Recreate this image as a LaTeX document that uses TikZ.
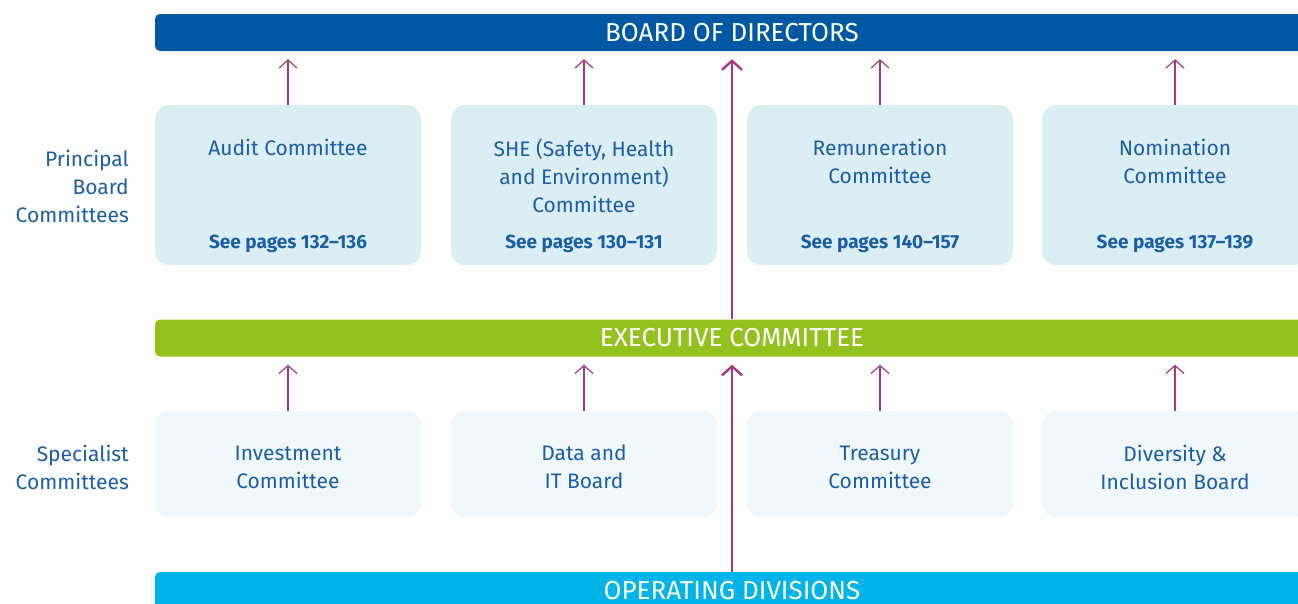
\documentclass[tikz,border=0pt]{standalone}
\usepackage{fontspec}
\setmainfont{Fira Sans}
\usetikzlibrary{arrows.meta, positioning}

\definecolor{boardblue}{HTML}{0057A4}
\definecolor{execgreen}{HTML}{95C11F}
\definecolor{opscyan}{HTML}{00B4E9}
\definecolor{mainfill}{HTML}{DBEEF4}
\definecolor{specfill}{HTML}{F0F8FB}
\definecolor{textblue}{HTML}{1B5EA8}
\definecolor{arrowpink}{HTML}{A6387F}

\tikzset{
    bar/.style={rounded corners=5pt, minimum height=37pt, minimum width=1154pt,
        inner sep=0pt, text=white, font=\fontsize{26}{30}\selectfont},
    mainbox/.style={fill=mainfill, rounded corners=14pt, minimum width=266pt,
        minimum height=160pt, inner sep=0pt},
    specbox/.style={fill=specfill, rounded corners=14pt, minimum width=266pt,
        minimum height=106pt, inner sep=0pt},
    boxtitle/.style={align=center, text=textblue, inner sep=0pt,
        font=\fontsize{21}{28}\selectfont},
    seepages/.style={text=textblue, inner sep=0pt,
        font=\bfseries\fontsize{19}{22}\selectfont},
    rowlabel/.style={align=right, anchor=east, text=textblue, inner sep=0pt,
        font=\fontsize{21}{28}\selectfont},
    smallarrow/.style={draw=arrowpink, line width=1.2pt,
        -{Straight Barb[length=8pt, width=18pt]}, shorten >=8pt},
    bigarrow/.style={draw=arrowpink, line width=2.4pt,
        -{Straight Barb[length=9pt, width=20pt]}, shorten >=8pt}
}

\begin{document}
\begin{tikzpicture}[x=1pt, y=-1pt]

    % frame of the picture
    \path[use as bounding box, clip] (0,0) rectangle (1298,603);

    % the three bars
    \node[bar, fill=boardblue] (board) at (732,32.5) {BOARD OF DIRECTORS};
    \node[bar, fill=execgreen] (exec) at (732,338) {EXECUTIVE COMMITTEE};
    \node[bar, fill=opscyan] (ops) at (732,590.5) {OPERATING DIVISIONS};

    % row labels
    \node[rowlabel] (principal) at (129,186) {Principal\\Board\\Committees};
    \node[rowlabel] (specialist) at (129,467) {Specialist\\Committees};

    % principal board committees
    \foreach \x/\name/\title/\pages in {
        288/audit/{Audit Committee}/132--136,
        584/she/{SHE (Safety, Health\\and Environment)\\Committee}/130--131,
        880/remun/{Remuneration\\Committee}/140--157,
        1175/nomin/{Nomination\\Committee}/137--139} {
        \node[mainbox] (\name) at (\x,185) {};
        \node[boxtitle, anchor=north] (\name-t) at (\x,139) {\title};
        \node[seepages, anchor=base] (\name-p) at (\x,248) {See pages \pages};
        \draw[smallarrow] (\name.north) -- (\name.north |- board.south);
    }

    % specialist committees
    \foreach \x/\name/\title in {
        288/invest/{Investment\\Committee},
        584/data/{Data and\\IT Board},
        880/treas/{Treasury\\Committee},
        1175/divers/{Diversity \&\\Inclusion Board}} {
        \node[specbox] (\name) at (\x,464) {};
        \node[boxtitle] (\name-t) at (\x,467) {\title};
        \draw[smallarrow] (\name.north) -- (\name.north |- exec.south);
    }

    % main reporting line
    \draw[bigarrow] (ops.north) -- (exec.south);
    \draw[bigarrow] (exec.north) -- (board.south);

\end{tikzpicture}
\end{document}
